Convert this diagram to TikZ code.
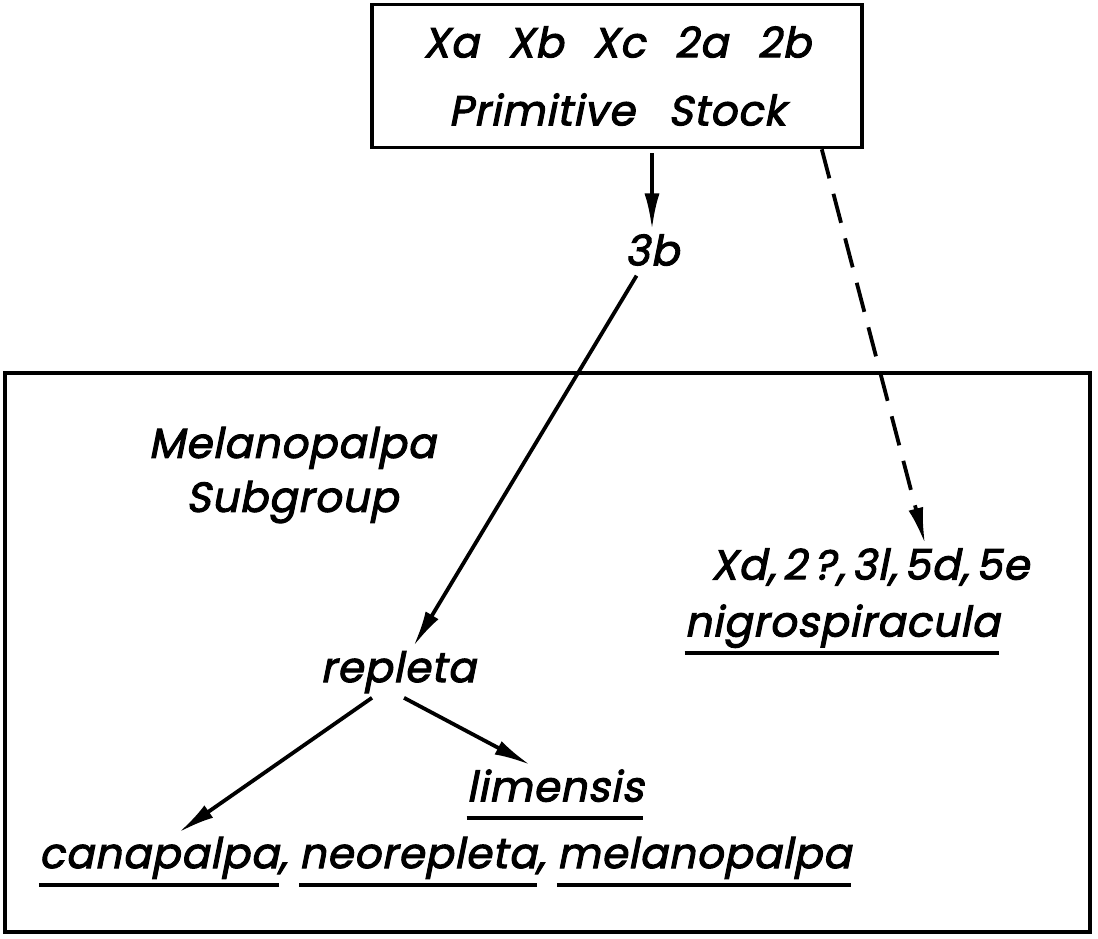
\documentclass[tikz,border=0pt]{standalone}
\usepackage{fontspec}
\setmainfont{Poppins}[FakeSlant=0.2, FakeBold=2.4, LetterSpace=2]
\usetikzlibrary{arrows.meta}

% underlined species name
\newcommand{\spname}[1]{\setbox0\hbox{#1}\rlap{\vrule height -15pt depth 19pt width \wd0}\box0}

\begin{document}
\begin{tikzpicture}[x=1pt, y=-1pt, line width=3.6pt,
	lbl/.style={font=\fontsize{42}{54}\selectfont, inner sep=3pt, align=center},
	arr/.style={-{Latex[length=36pt,width=15pt]}, line width=3.8pt}]
	\useasboundingbox (0,0) rectangle (1098,939);
	\node[lbl, draw, minimum width=490pt, minimum height=143pt, font=\fontsize{42}{68}\selectfont] (stock) at (617,76) {Xa\hspace{0.7em}Xb\hspace{0.7em}Xc\hspace{0.7em}2a\hspace{0.7em}2b\\Primitive\hspace{0.8em}Stock};
	\node[lbl] (b3) at (652,250) {3b};
	\draw (5,373) rectangle (1090,932);
	\node[lbl] (subgroup) at (292,475) {Melanopalpa\\Subgroup};
	\node[lbl] (xd) at (870,567) {Xd,\,2\,?,\,3l,\,5d,\,5e};
	\node[lbl] (nigro) at (842,630) {\spname{nigrospiracula}};
	\node[lbl] (repleta) at (398,672) {repleta};
	\node[lbl] (limensis) at (555,795) {\spname{limensis}};
	\node[lbl] (species) at (445,862) {\spname{canapalpa}, \spname{neorepleta}, \spname{melanopalpa}};
	\draw[arr] (stock.south -| b3.north) ++(0,4) -- (b3.north);
	\draw[arr, shorten <=6pt] (b3) -- (repleta);
	\draw[arr, dash pattern=on 30pt off 16pt] ([xshift=-42pt]stock.south east) -- ([xshift=55pt]xd.north);
	\draw[arr] ([xshift=-26pt]repleta.south) -- ([xshift=145pt]species.north west);
	\draw[arr] ([xshift=6pt]repleta.south) -- ([xshift=-25pt]limensis.north);
\end{tikzpicture}
\end{document}
